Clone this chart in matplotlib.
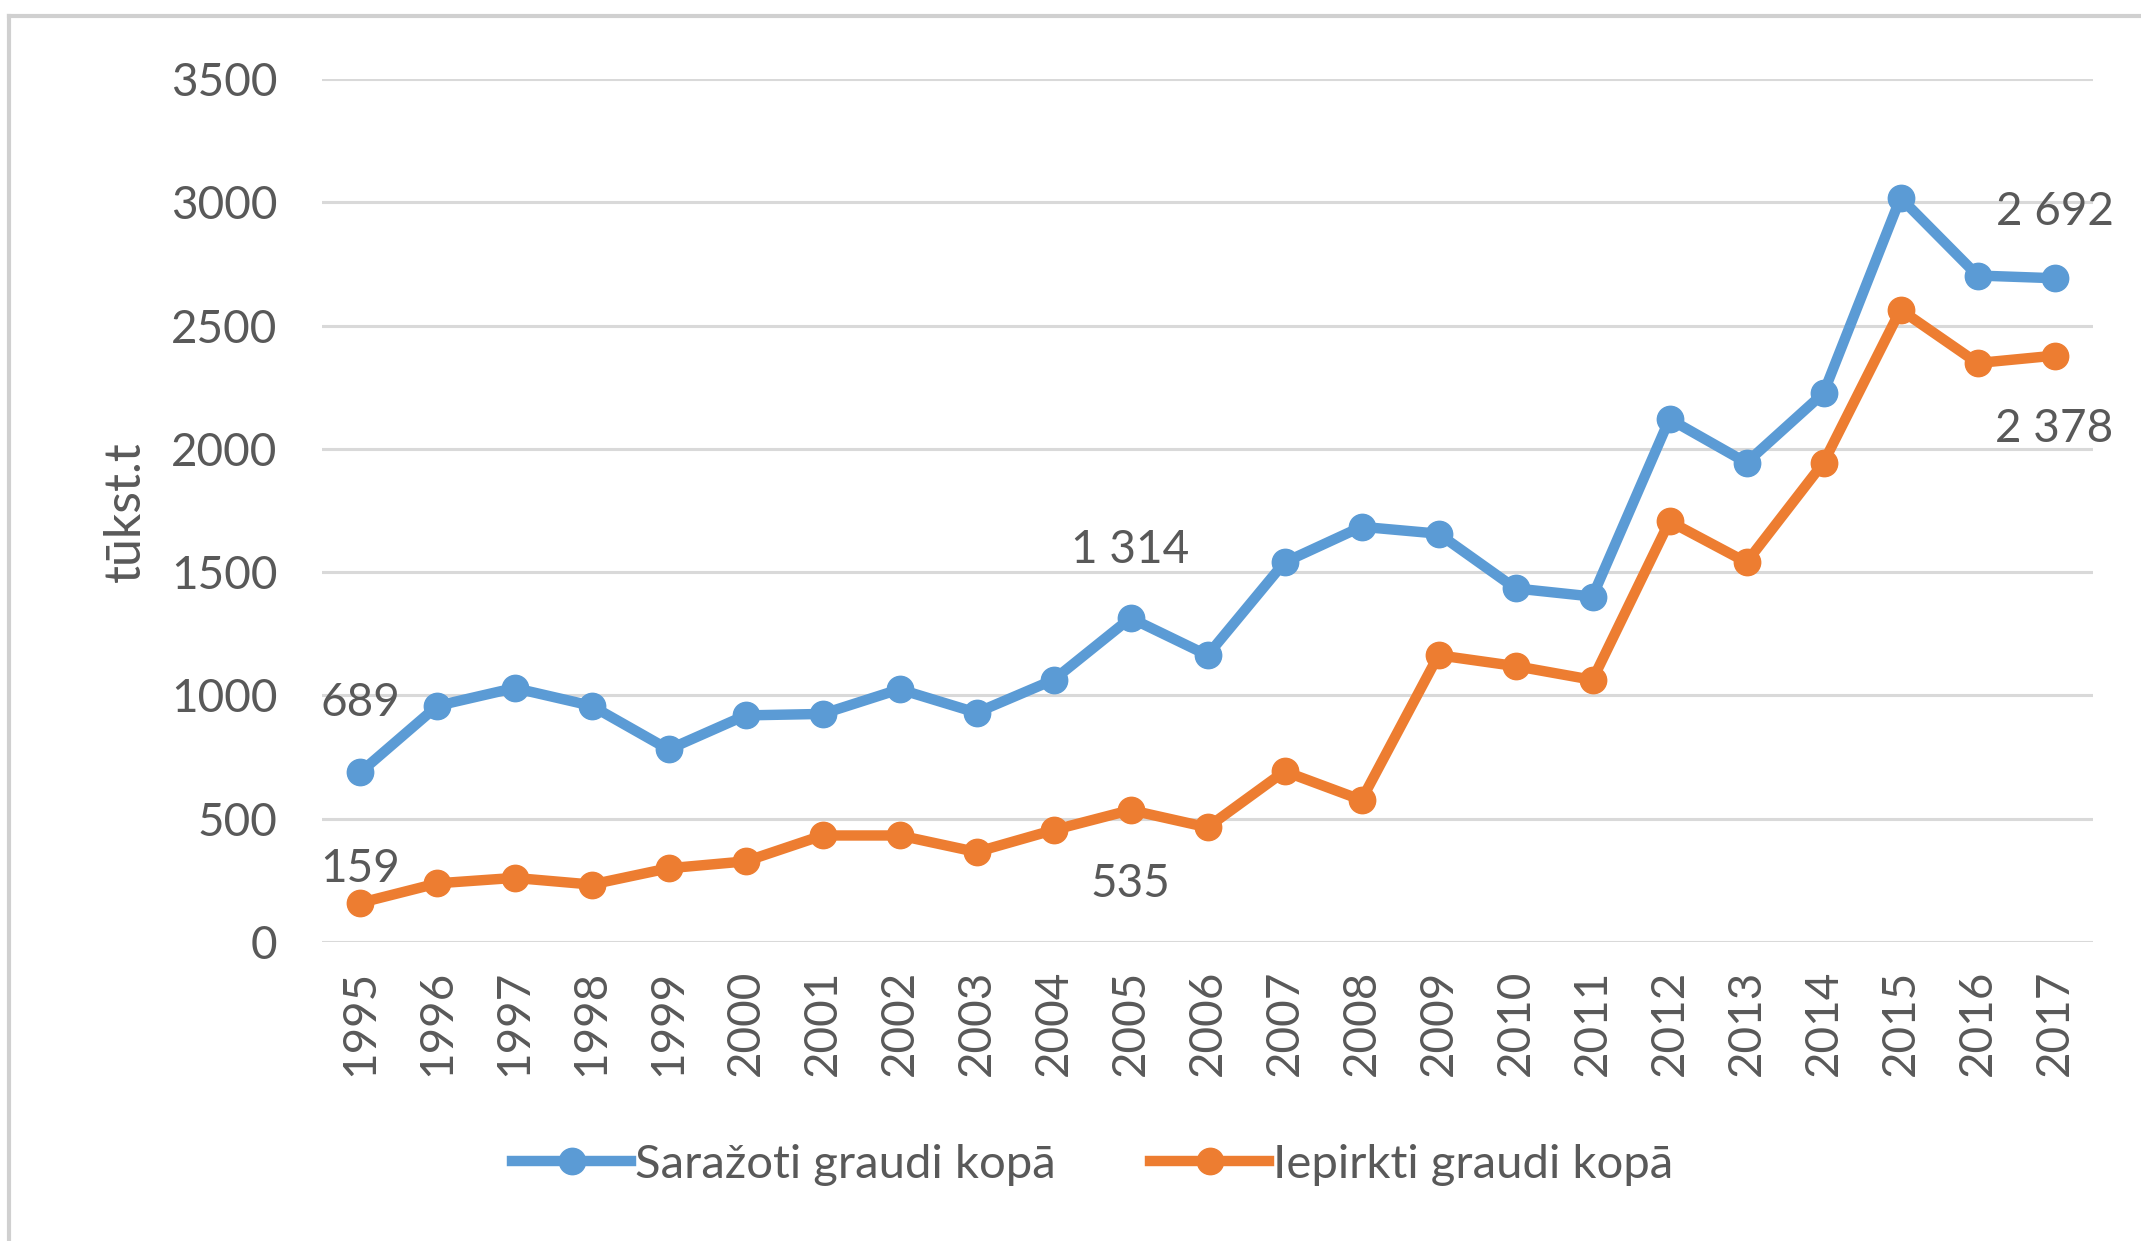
import matplotlib
matplotlib.use("Agg")
import matplotlib.pyplot as plt
from matplotlib.lines import Line2D

plt.rcParams['font.family'] = ['Lato', 'DejaVu Sans']

years = [str(y) for y in range(1995, 2018)]
produced = [689, 958, 1030, 958, 781, 919, 925, 1025, 930, 1063, 1314, 1163,
            1540, 1684, 1656, 1434, 1401, 2121, 1944, 2226, 3018, 2703, 2692]
purchased = [159, 238, 260, 233, 299, 327, 432, 432, 365, 454, 535, 465,
             692, 576, 1163, 1119, 1063, 1706, 1540, 1944, 2564, 2348, 2378]
series_names = ["Saražoti graudi kopā", "Iepirkti graudi kopā"]
y_ticks = [0, 500, 1000, 1500, 2000, 2500, 3000, 3500]
y_label = "tūkst.t"

# labels: (series index, point index, offset in points)
labels = [(0, 0, 50), (1, 0, 24), (0, 10, 49), (1, 10, -53), (0, 22, 48), (1, 22, -53)]

blue = "#5B9BD5"
orange = "#ED7D31"
txt = "#595959"
grid = "#D9D9D9"
fs = 33

fig = plt.figure(figsize=(21.41, 12.41), dpi=100)
ax = fig.add_axes([322/2141, 1-942/1241, (2093-322)/2141, (942-79)/1241])

x = list(range(len(years)))
ax.plot(x, produced, color=blue, lw=7.5, marker='o', ms=19, clip_on=False, zorder=3,
        label=series_names[0])
ax.plot(x, purchased, color=orange, lw=7.5, marker='o', ms=19, clip_on=False, zorder=3,
        label=series_names[1])

ax.set_xlim(-0.5, len(years) - 0.5)
ax.set_ylim(0, 3500)
ax.set_yticks(y_ticks)
ax.set_yticklabels([str(v) for v in y_ticks])
ax.set_xticks(x)
ax.set_xticklabels(years, rotation=90)
ax.tick_params(axis='y', length=0, pad=32, labelsize=fs, labelcolor=txt)
ax.tick_params(axis='x', length=0, pad=20, labelsize=fs, labelcolor=txt)
for v in y_ticks:
    ax.axhline(v, color=grid, lw=2.2, zorder=1)
for s in ax.spines.values():
    s.set_visible(False)

data = [produced, purchased]
for si, pi, off in labels:
    v = data[si][pi]
    s = f"{v:,}".replace(",", " ")
    ax.annotate(s, (pi, v), xytext=(0, off), textcoords='offset points',
                ha='center', va='center', fontsize=fs, color=txt, zorder=4,
                annotation_clip=False)

fig.text(126/2141, 1-512/1241, y_label, rotation=90, ha='center', va='center',
         fontsize=36, color=txt)

handles = [Line2D([0], [0], color=blue, lw=7.5, marker='o', ms=19),
           Line2D([0], [0], color=orange, lw=7.5, marker='o', ms=19)]
fig.legend(handles, series_names, loc='center', bbox_to_anchor=(1093/2141, 1-1165/1241),
           ncol=2, frameon=False, fontsize=34, labelcolor=txt, handlelength=2.5,
           handletextpad=0.1, columnspacing=2.0)

# outer frame (top and left)
fig.add_artist(Line2D([9/2141, 9/2141], [0, 1-16/1241], color="#D0D0D0", lw=3,
                      transform=fig.transFigure))
fig.add_artist(Line2D([9/2141, 1], [1-16/1241, 1-16/1241], color="#D0D0D0", lw=3,
                      transform=fig.transFigure))

fig.savefig("out.png", dpi=100, facecolor="white")
